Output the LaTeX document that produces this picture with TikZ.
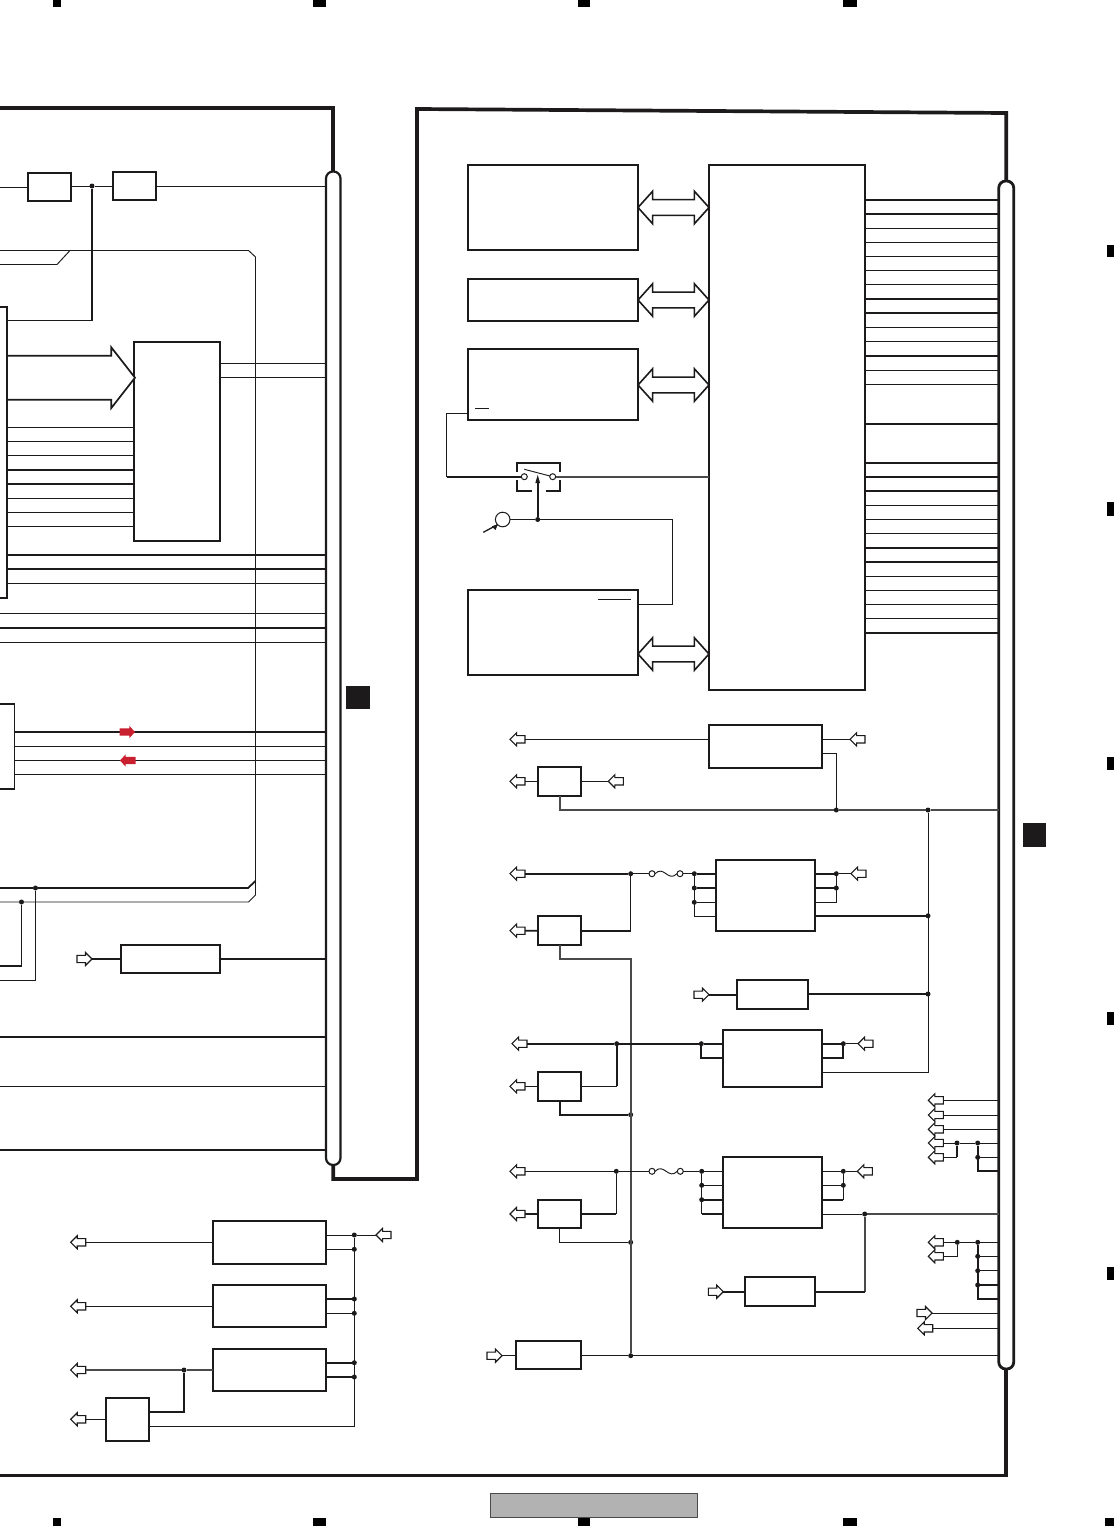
\documentclass[tikz,border=0pt]{standalone}
\usetikzlibrary{shapes.arrows}
\definecolor{ink}{HTML}{1C1A1B}
\definecolor{greyline}{HTML}{4A4A4A}
\definecolor{redarrow}{HTML}{C8202F}
\tikzset{
  tw/.style={draw=ink,line width=0.95pt},
  mw/.style={draw=ink,line width=1.3pt},
  kw/.style={draw=ink,line width=1.8pt},
  gw/.style={draw=greyline,line width=1.6pt},
  frameline/.style={draw=ink,line width=3.7pt,line join=miter},
  boxn/.style={draw=ink,line width=1.9pt,rectangle,inner sep=0pt,outer sep=0pt,fill=white},
  busn/.style={draw=ink,rectangle,inner sep=0pt,outer sep=0pt,rounded corners=7pt},
  jdot/.style={circle,fill=ink,inner sep=0pt,outer sep=0pt,minimum size=5pt},
  opencirc/.style={circle,draw=ink,line width=1pt,fill=white,inner sep=0pt,outer sep=0pt,minimum size=6pt},
  hollow/.style={single arrow,draw=ink,line width=1.1pt,fill=white,inner sep=0pt,outer sep=0pt,
    text height=3.1pt,text depth=3.1pt,text width=0pt,anchor=tip,
    minimum height=15pt,minimum width=12pt,single arrow head extend=2.9pt,single arrow tip angle=90},
  redtip/.style={single arrow,fill=redarrow,inner sep=0pt,outer sep=0pt,
    text height=3.4pt,text depth=3.4pt,text width=0pt,anchor=tip,
    minimum height=15.5pt,minimum width=12pt,single arrow head extend=2.6pt,single arrow tip angle=95},
  dbl/.style={double arrow,draw=ink,line width=1.6pt,fill=white,inner sep=0pt,outer sep=0pt,
    text height=7.1pt,text depth=7.1pt,text width=0pt,
    minimum height=71pt,minimum width=31pt,double arrow head extend=8.4pt,double arrow tip angle=96},
}
\newcommand\boxat[5]{\node[boxn,minimum width={(#4-#2)*1pt},minimum height={(#5-#3)*1pt}] (#1) at ({(#2+#4)/2},{(#3+#5)/2}) {};}
\newcommand\jd[3]{\node[jdot] (#1) at (#2,#3) {};}
\newcommand\inL[3]{\node[hollow,shape border rotate=180] (#1) at (#2,#3) {};}
\newcommand\inR[3]{\node[hollow] (#1) at (#2,#3) {};}
\begin{document}
\begin{tikzpicture}[x=1pt,y=-1pt]
\useasboundingbox (0,0) rectangle (1114,1526);
% registration marks
\foreach \a/\b in {53/61,313/326,578/590,843/857}{
  \fill[black] (\a,0) rectangle (\b,7);
  \fill[black] (\a,1518) rectangle (\b,1526);}
\fill[black] (1105,1518) rectangle (1114,1526);
\foreach \a/\b in {245/257,502/516,757/770,1012/1025,1267/1280}
  \fill[black] (1107,\a) rectangle (1114,\b);
% buses
\node[busn,line width=2.2pt,minimum width=14.5pt,minimum height=993.5pt] (busL) at (333.25,668.25) {};
\node[busn,line width=2.8pt,minimum width=15pt,minimum height=1188pt] (busR) at (1006.25,775) {};
\coordinate (edge) at (0,0);
\coordinate (brD) at (7,450);
\coordinate (brE) at (14.5,746);
% frame
\draw[frameline] (edge |- 0,108) -- (busL.north |- 0,108) -- (busL.north);
\draw[frameline] (busL.south) -- (busL.south |- 0,1179) -- (417,1179) -- (417,109) -- (busR.north |- 0,113) -- (busR.north);
\draw[frameline] (busR.south) -- (busR.south |- 0,1475.5) -- (edge |- 0,1475.5);
% squares and footer
\node[rectangle,fill=ink,inner sep=0pt,minimum width=24pt,minimum height=23pt] (sqL) at (358,697.5) {};
\node[rectangle,fill=ink,inner sep=0pt,minimum width=23pt,minimum height=24pt] (sqR) at (1034.5,835) {};
\node[rectangle,draw=greyline,line width=0.8pt,fill=black!30,inner sep=0pt,minimum width=207pt,minimum height=24pt] (foot) at (593.5,1505.5) {};
% ---------- left part
\boxat{A}{28}{173}{71}{201}
\boxat{B}{113}{172}{156}{200}
\boxat{C}{134}{342}{220}{541}
\boxat{F}{121}{945}{220}{973}
\boxat{S}{213}{1221}{326}{1264}
\boxat{T}{213}{1285}{326}{1327}
\boxat{U}{213}{1348.7}{326}{1391}
\boxat{V}{106}{1398.3}{149.3}{1441}
\jd{d92}{92}{186}
\jd{d35}{35.5}{888}
\jd{d21}{21.5}{902}
\jd{d184}{184}{1370}
\jd{ds1}{354.3}{1235}
\jd{ds2}{354.3}{1249.3}
\jd{ds3}{354.3}{1299}
\jd{ds4}{354.3}{1313.3}
\jd{ds5}{354.3}{1362.7}
\jd{ds6}{354.3}{1377}
\draw[kw] (edge |- 0,307) -- (brD |- 0,307) -- (brD |- 0,598) -- (edge |- 0,598);
\draw[kw] (edge |- 0,704) -- (brE |- 0,704) -- (brE |- 0,789) -- (edge |- 0,789);
\draw[tw] (edge |- A.west) -- (A.west);
\draw[tw] (A.east |- d92) -- (d92) -- (B.west |- d92);
\draw[tw] (B.east |- d92) -- (busL.west |- d92);
\draw[kw] (d92) -- (d92 |- 0,320.5) -- (brD |- 0,320.5);
\draw[tw] (edge |- 0,250.5) -- (248.5,250.5) -- (255.5,257) -- (255.5,895) -- (248.5,902) -- (d21) -- (edge |- 0,902);
\draw[tw] (edge |- 0,264.5) -- (57,264.5) -- (70,250.5);
\draw[kw] (edge |- 0,888) -- (d35) -- (248,888) -- (255.5,881);
\node[single arrow,draw=ink,line width=1.7pt,fill=white,inner sep=0pt,outer sep=0pt,text height=21.15pt,text depth=21.15pt,text width=0pt,minimum height=128pt,minimum width=59pt,single arrow head extend=8.5pt,single arrow tip angle=104,anchor=tip] (bigarr) at (135,377.7) {};
\foreach \y in {427,441,455,498.5,512.5,526.5} \draw[tw] (brD |- 0,\y) -- (C.west |- 0,\y);
\foreach \y in {470,484} \draw[kw] (brD |- 0,\y) -- (C.west |- 0,\y);
\draw[tw] (C.east |- 0,363.5) -- (busL.west |- 0,363.5);
\draw[kw] (C.east |- 0,377.5) -- (busL.west |- 0,377.5);
\foreach \y in {555,569} \draw[kw] (brD |- 0,\y) -- (busL.west |- 0,\y);
\draw[tw] (brD |- 0,583) -- (busL.west |- 0,583);
\foreach \y in {613,642} \draw[tw] (edge |- 0,\y) -- (busL.west |- 0,\y);
\draw[kw] (edge |- 0,628) -- (busL.west |- 0,628);
\draw[kw] (brE |- 0,732) -- (busL.west |- 0,732);
\foreach \y in {746,760.5,774.5} \draw[tw] (brE |- 0,\y) -- (busL.west |- 0,\y);
\node[redtip] (red1) at (135,732) {};
\node[redtip,shape border rotate=180] (red2) at (120,760.5) {};
\draw[tw] (d35) -- (d35 |- 0,980) -- (edge |- 0,980);
\draw[tw] (d21) -- (d21 |- 0,966);
\draw[kw] (d21 |- 0,966) -- (edge |- 0,966);
\inR{aF}{92}{959}
\draw[kw] (aF.tip) -- (F.west);
\draw[kw] (F.east) -- (busL.west |- F.east);
\foreach \y in {1037,1086.5,1150} \draw[mw] (edge |- 0,\y) -- (busL.west |- 0,\y);
% bottom-left regulators
\inL{aS}{70.7}{1242.3}
\inL{aT}{70.7}{1306.3}
\inL{aU}{70.7}{1370}
\inL{aV}{70.7}{1419.3}
\inL{aSr}{376}{1235}
\draw[tw] (aS.tail) -- (S.west |- aS.tail);
\draw[tw] (aT.tail) -- (T.west |- aT.tail);
\draw[gw] (aU.tail) -- (d184) -- (U.west |- d184);
\draw[tw] (aV.tail) -- (V.west |- aV.tail);
\draw[kw] (d184) -- (d184 |- 0,1412) -- (V.east |- 0,1412);
\draw[tw] (V.east |- 0,1426.3) -- (ds1 |- 0,1426.3) -- (ds1);
\draw[tw] (S.east |- ds1) -- (ds1) -- (aSr.tip);
\draw[tw] (S.east |- ds2) -- (ds2);
\draw[kw] (T.east |- ds3) -- (ds3);
\draw[tw] (T.east |- ds4) -- (ds4);
\draw[kw] (U.east |- ds5) -- (ds5);
\draw[kw] (U.east |- ds6) -- (ds6);
% ---------- right part, top
\boxat{Ra}{468}{165}{638}{250}
\boxat{Rb}{468}{279}{638}{321}
\boxat{Rc}{468}{349}{638}{420}
\boxat{Rd}{468}{590}{638}{675}
\boxat{Big}{709}{165}{864.7}{690}
\node[dbl] (da) at (673.5,207.5) {};
\node[dbl] (db) at (673.5,300) {};
\node[dbl] (dc) at (673.5,385) {};
\node[dbl] (dd) at (673.5,654) {};
\foreach \y in {228.3,242.3,256.3,270.3,284.3,327.3,341.3,370.3,384.3,505.3,519.3,533.3,576.3,590.3,604.3,618.3}
  \draw[tw] (Big.east |- 0,\y) -- (busR.west |- 0,\y);
\foreach \y in {199.7,213.7,298.7,312.7,356,423.7,463,477,491,547.7,562,632.7}
  \draw[kw] (Big.east |- 0,\y) -- (busR.west |- 0,\y);
% switch
\node[opencirc] (swL) at (524.3,476.7) {};
\node[opencirc] (swR) at (552.7,476.7) {};
\node[circle,draw=ink,line width=1pt,inner sep=0pt,outer sep=0pt,minimum size=14.6pt] (sens) at (502.7,519.5) {};
\jd{dsw}{537.7}{519.5}
\draw[tw] (Rc.west |- 0,413.3) -- (446.7,413.3) -- (446.7,476.7);
\draw[kw] (446.7,476.7) -- (swL);
\draw[gw] (swR) -- (Big.west |- swR);
\draw[tw] (524.3,469.3) -- (550,476);
\draw[kw] (516.7,471.7) -- (516.7,463) -- (560.2,463) -- (560.2,471.7);
\draw[kw] (516.7,480) -- (516.7,491) -- (531.7,491);
\draw[kw] (560.2,480) -- (560.2,491) -- (546,491);
\draw[kw] (dsw) -- (dsw |- 0,482);
\fill[ink] (537.7,475) -- (535.3,483) -- (540.1,483) -- cycle;
\draw[mw] (sens) -- (dsw) -- (672.7,519.5) -- (672.7,604.3) -- (Rd.east |- 0,604.3);
\coordinate (sensfoot) at (483.3,532.3);
\draw[mw] (sensfoot) -- (sens.south west);
\fill[ink] (sens.south west) ++(0.3,-0.3) -- ++(-6,2) -- ++(3.6,3.8) -- cycle;
\draw[tw] (475,408) -- (489,408);
\draw[tw] (598,599) -- (631,599);
% ---------- right part, regulators
\boxat{G}{708.7}{724.7}{822.3}{768}
\boxat{H}{538.3}{766.7}{581.3}{795.7}
\boxat{I}{715.7}{860}{815.3}{930.7}
\boxat{J}{538.3}{916.3}{581.3}{945}
\boxat{K}{737}{980}{808.3}{1008.7}
\boxat{L}{722.7}{1030}{822.3}{1086.7}
\boxat{M}{538.3}{1072}{581.3}{1100.7}
\boxat{N}{722.7}{1156.7}{822.3}{1227.7}
\boxat{O}{745}{1277}{815.3}{1305.7}
\boxat{P}{538.3}{1199.7}{581.3}{1228.3}
\boxat{Q}{515.7}{1340.7}{581}{1369.3}
\jd{r836}{836.3}{810}
\jd{r928}{928}{810}
\jd{r928b}{928}{915.8}
\jd{r928c}{928}{994}
\jd{j631a}{630.7}{873.7}
\jd{j694a}{694.3}{873.7}
\jd{j694b}{694.3}{888}
\jd{j694c}{694.3}{902.3}
\jd{j836a}{836.3}{873.7}
\jd{j836b}{836.3}{888}
\jd{j617}{616.7}{1043.7}
\jd{j701}{701.3}{1043.7}
\jd{j843}{843.3}{1043.7}
\jd{j631b}{630.7}{1114.7}
\jd{j616}{616.3}{1171.3}
\jd{j702a}{701.7}{1171.3}
\jd{j702b}{701.7}{1185.3}
\jd{j702c}{701.7}{1199.7}
\jd{j843a}{843.3}{1171.3}
\jd{j843b}{843.3}{1185.3}
\jd{j865}{864.7}{1214}
\jd{j631c}{630.7}{1242.3}
\jd{j631d}{630.7}{1355.7}
% G, H
\inL{aGl}{510}{739.3}
\inL{aGr}{850}{739.3}
\inL{aHl}{510}{781.3}
\inL{aHr}{608.3}{781.3}
\draw[tw] (aGl.tail) -- (G.west |- aGl.tail);
\draw[tw] (G.east |- aGr.tip) -- (aGr.tip);
\draw[tw] (G.east |- 0,753.3) -- (r836 |- 0,753.3) -- (r836);
\draw[tw] (aHl.tail) -- (H.west |- aHl.tail);
\draw[tw] (H.east |- aHr.tip) -- (aHr.tip);
\draw[gw] (H.south) -- (H.south |- r836) -- (r836) -- (r928) -- (busR.west |- r928);
% fuse 1 and I
\inL{aIl}{510}{873.7}
\inL{aIr}{851}{873.7}
\node[opencirc] (f1l) at (652,873.7) {};
\node[opencirc] (f1r) at (680,873.7) {};
\draw[kw] (aIl.tail) -- (j631a);
\draw[tw] (j631a) -- (f1l);
\draw[tw] (f1l.east) .. controls +(9,-9) and +(-9,9) .. (f1r.west);
\draw[tw] (f1r) -- (j694a);
\draw[kw] (j694a) -- (I.west |- j694a);
\draw[kw] (j694b) -- (I.west |- j694b);
\draw[tw] (j694c) -- (I.west |- j694c);
\draw[tw] (j694a) -- (j694a |- 0,916.3) -- (I.west |- 0,916.3);
\draw[kw] (I.east |- j836a) -- (j836a);
\draw[tw] (j836a) -- (aIr.tip);
\draw[kw] (I.east |- j836b) -- (j836b);
\draw[tw] (I.east |- 0,902.3) -- (j836a |- 0,902.3) -- (j836a);
\draw[kw] (I.east |- r928b) -- (r928b);
% J
\inL{aJ}{510}{930.7}
\draw[kw] (aJ.tail) -- (J.west);
\draw[kw] (J.east) -- (j631a |- J.east);
\draw[tw] (j631a |- J.east) -- (j631a);
\draw[gw] (J.south) -- (J.south |- 0,958.7) -- (j631a |- 0,958.7) -- (j631d);
% K
\inR{aK}{709}{994.7}
\draw[kw] (aK.tip) -- (K.west |- aK.tip);
\draw[kw] (K.east |- r928c) -- (r928c);
% L
\inL{aLl}{512}{1043.7}
\inL{aLr}{858}{1043.7}
\draw[kw] (aLl.tail) -- (j617) -- (j701) -- (L.west |- j701);
\draw[kw] (j701) -- (j701 |- 0,1057.7) -- (L.west |- 0,1057.7);
\draw[kw] (L.east |- j843) -- (j843);
\draw[tw] (j843) -- (aLr.tip);
\draw[kw] (L.east |- 0,1057.7) -- (j843 |- 0,1057.7) -- (j843);
\draw[tw] (L.east |- 0,1072.3) -- (r928 |- 0,1072.3) -- (r928);
% M
\inL{aM}{510}{1086.3}
\draw[tw] (aM.tail) -- (M.west |- aM.tail);
\draw[tw] (M.east |- aM.tail) -- (j617 |- aM.tail);
\draw[kw] (j617 |- aM.tail) -- (j617);
\draw[kw] (M.south) -- (M.south |- j631b) -- (j631b);
% fuse 2 and N
\inL{aNl}{510}{1171.3}
\inL{aNr}{857.3}{1171.3}
\node[opencirc] (f2l) at (652,1171.3) {};
\node[opencirc] (f2r) at (680.3,1171.3) {};
\draw[tw] (aNl.tail) -- (j616) -- (f2l);
\draw[tw] (f2l.east) .. controls +(9,-9) and +(-9,9) .. (f2r.west);
\draw[tw] (f2r) -- (j702a) -- (N.west |- j702a);
\draw[tw] (j702b) -- (N.west |- j702b);
\draw[kw] (j702c) -- (N.west |- j702c);
\draw[tw] (j702a) -- (j702a |- 0,1214);
\draw[kw] (j702a |- 0,1214) -- (N.west |- 0,1214);
\draw[tw] (N.east |- j843a) -- (j843a) -- (aNr.tip);
\draw[tw] (N.east |- j843b) -- (j843b);
\draw[kw] (N.east |- 0,1199.7) -- (j843a |- 0,1199.7);
\draw[tw] (j843a |- 0,1199.7) -- (j843a);
\draw[tw] (N.east |- j865) -- (j865);
\draw[gw] (j865) -- (busR.west |- j865);
\draw[gw] (j865) -- (j865 |- 0,1291.7);
\draw[kw] (j865 |- 0,1291.7) -- (O.east |- 0,1291.7);
\inR{aO}{723.3}{1291.7}
\draw[kw] (aO.tip) -- (O.west |- aO.tip);
% P
\inL{aP}{510}{1214}
\draw[kw] (aP.tail) -- (P.west |- aP.tail);
\draw[kw] (P.east |- aP.tail) -- (j616 |- aP.tail);
\draw[tw] (j616 |- aP.tail) -- (j616);
\draw[tw] (P.south) -- (P.south |- j631c) -- (j631c);
% Q
\inR{aQ}{502}{1355.7}
\draw[tw] (aQ.tip) -- (Q.west |- aQ.tip);
\draw[mw] (Q.east |- j631d) -- (j631d) -- (busR.west |- j631d);
% right cluster
\inL{c1}{928.3}{1100.3}
\inL{c2}{928.3}{1115}
\inL{c3}{928.3}{1129.3}
\inL{c4}{928.3}{1143}
\inL{c5}{928.3}{1157.3}
\inL{c6}{928.3}{1242.3}
\inL{c7}{928.3}{1256.3}
\inR{c8}{932}{1313}
\inL{c9}{917.7}{1328.3}
\jd{e1}{957}{1143}
\jd{e2}{977.7}{1143}
\jd{e3}{977.7}{1157.3}
\jd{e4}{957.3}{1242.3}
\jd{e5}{977.7}{1242.3}
\jd{e6}{977.7}{1256.3}
\jd{e7}{977.7}{1270.7}
\jd{e8}{977.7}{1285}
\foreach \n in {c1,c2,c3} \draw[tw] (\n.tail) -- (busR.west |- \n.tail);
\draw[tw] (c4.tail) -- (e1) -- (e2) -- (busR.west |- e2);
\draw[tw] (c5.tail) -- (e1 |- c5.tail);
\draw[kw] (e1 |- c5.tail) -- (e1);
\draw[tw] (e3) -- (busR.west |- e3);
\draw[kw] (e2) -- (e2 |- 0,1171) -- (busR.west |- 0,1171);
\draw[tw] (c6.tail) -- (e4) -- (e5) -- (busR.west |- e5);
\draw[tw] (c7.tail) -- (e4 |- c7.tail) -- (e4);
\draw[tw] (e6) -- (busR.west |- e6);
\draw[tw] (e7) -- (busR.west |- e7);
\draw[kw] (e8) -- (busR.west |- e8);
\draw[kw] (e5) -- (e5 |- 0,1299) -- (busR.west |- 0,1299);
\draw[tw] (c8.tip) -- (busR.west |- c8.tip);
\draw[tw] (c9.tail) -- (busR.west |- c9.tail);
\end{tikzpicture}
\end{document}
